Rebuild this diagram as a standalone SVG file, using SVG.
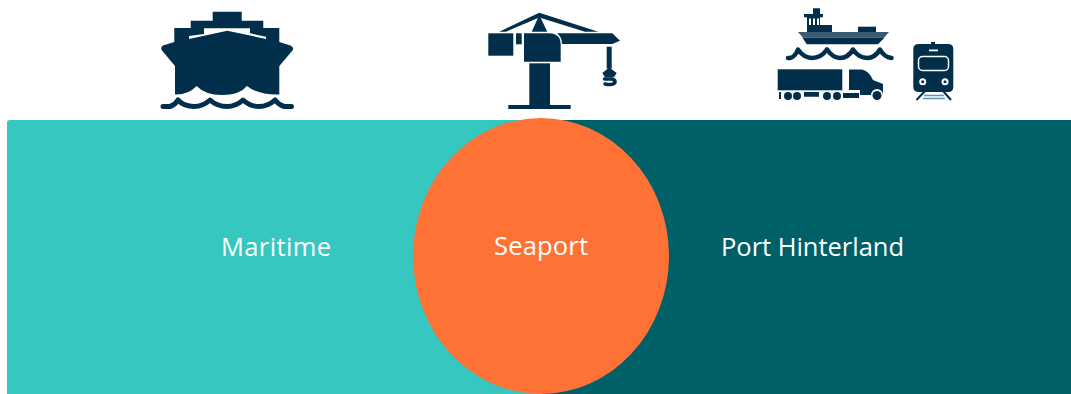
<svg xmlns="http://www.w3.org/2000/svg" width="1071" height="394" viewBox="0 0 1071 394">
<style>
.i{fill:#012f4b}
.w{fill:#fff}
.t{font-family:"Open Sans","Liberation Sans",sans-serif;font-size:25.500px;fill:#fff}
.wave{fill:none;stroke:#012f4b;stroke-linecap:round;stroke-linejoin:round}
</style>
<rect width="1071" height="394" fill="#fff"/>
<g id="maritime">
<path d="M7 394V123Q7 120 10 120H541V394Z" fill="#35c7c0"/>
<text class="t" x="221" y="256" textLength="110">Maritime</text>
</g>
<g id="hinterland">
<rect x="541" y="120" width="530" height="274" fill="#006068"/>
<text class="t" x="721" y="256" textLength="183">Port Hinterland</text>
</g>
<g id="seaport">
<ellipse cx="541" cy="256" rx="128" ry="138" fill="#ff7236"/>
<text class="t" x="494" y="255" textLength="94">Seaport</text>
</g>
<g id="ship-icon">
<path class="i" d="M212.700 11.700H241.700V20.700H263.300V28H279.300V42L290.500 45.500Q294.500 47.500 292.500 50.500L279.300 66V94.500Q258 95 247 86Q240 95 222 95Q205 95 196.700 86Q188 95 175 94.500V66L162 50.500Q160 47.500 163 45.500L174.300 42V28H190.700V20.700H212.700Z"/>
<path class="w" d="M189 36L204 34V28.300H250V33.300L266 36.700V39L227.300 30.700L189 39Z"/>
<path class="wave" stroke-width="5" d="M163 106.500H170Q175 105 178 100Q184 106.500 194 106.500Q203 106.500 210 100Q217 106.500 227 106.500Q236 106.500 243 100Q250 106.500 259 106.500Q268 106.500 275 100Q279 105 284 106.500H291.500"/>
</g>
<g id="crane-icon">
<path class="i" d="M499.300 31.700L539.300 12.700L598.300 31.700H585L539.300 17.500L506 31.700Z"/>
<path class="i" d="M539.300 15L547.300 31.700H531.700Z"/>
<rect class="i" x="488.300" y="33.300" width="25" height="22.400"/>
<rect class="i" x="516" y="33.300" width="5.700" height="11"/>
<path class="i" d="M524 33.300H549Q560.700 33.300 560.700 45V61.700H524Z"/>
<path class="i" d="M557 33.300H612.300L620 40.700L612.300 44H562Q562 37 557 33.300Z"/>
<rect class="i" x="529.300" y="63.300" width="20.700" height="42"/>
<rect class="i" x="508.300" y="105" width="62.400" height="4"/>
<rect class="i" x="606.700" y="46.700" width="5" height="22"/>
<path class="i" d="M609.200 67.500L616.700 73L614 77.300H605L602.300 73Z"/>
<path class="wave" stroke-width="3.500" d="M604.500 79H612Q615.500 80 615 82.500Q613.500 85.500 605 84"/>
</g>
<g id="transport-icon">
<path class="i" d="M813 8.300H820V14H823V17.300H820V25H832V32H807V17.300H804V14H813Z"/>
<path class="w" d="M809 18.500H811V25H809ZM813 18.500H815V25H813ZM817 18.500H819V25H817Z"/>
<rect class="i" x="858" y="26.700" width="18" height="5.300"/>
<path d="M798 32H889L884 37.700H803Z" fill="#3a5a72"/>
<path class="i" d="M802.500 37.700H884.500L878 44.300H806.700Z"/>
<path class="wave" stroke-width="4.500" d="M788 58H790Q795 57 798 49.500Q804 58 812 58Q821 58 827 49.500Q833 58 840 58Q848 58 853 49.500Q859 58 867 58Q875 58 880 49.500Q884 57 891.500 58"/>
<rect class="i" x="777.700" y="69.300" width="64.600" height="21"/>
<path class="i" d="M849 69.500H862Q869 71 873 80L883 84V95H883A6 6 0 0 0 871 95H860V90H849Z"/>
<path class="i" d="M779 92H781V99H779ZM804 92H819V96.700H804ZM843 93H859V98H843Z"/>
<circle class="i" cx="788" cy="96" r="4"/><circle class="i" cx="797" cy="96" r="4"/><circle class="i" cx="827" cy="96" r="4"/><circle class="i" cx="837" cy="96" r="4"/><circle class="i" cx="877" cy="95.500" r="4.500"/>
<path class="i" d="M919 44H931V42H935V44H948Q953.300 44 953.300 49V87Q953.300 92 948 92H919Q913.300 92 913.300 87V49Q913.300 44 919 44Z"/>
<rect x="918.500" y="56.500" width="30" height="14" rx="4" fill="none" stroke="#fff" stroke-width="1.500"/>
<rect class="w" x="929" y="49.500" width="9" height="1.800"/>
<circle class="w" cx="922.700" cy="81.700" r="3.500"/><circle class="w" cx="945" cy="81.700" r="3.500"/>
<circle class="i" cx="922.700" cy="81.700" r="1.500"/><circle class="i" cx="945" cy="81.700" r="1.500"/>
<path d="M925 91L916.500 100M943 91L951 100" stroke="#012f4b" stroke-width="2" fill="none"/>
<path d="M924 95.500H944M923 98.500H945" stroke="#5c95b8" stroke-width="1.500" fill="none"/>
</g>
</svg>
